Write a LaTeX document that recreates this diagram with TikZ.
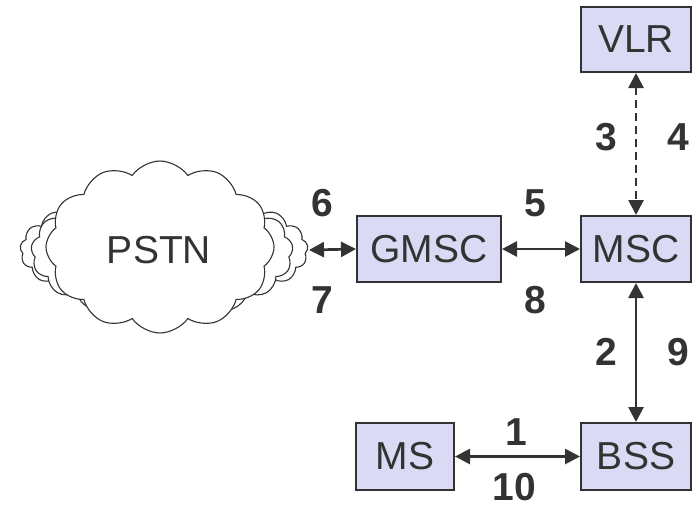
\documentclass[tikz,border=0pt]{standalone}
\usepackage{fontspec}
\setmainfont{Liberation Sans}
\usetikzlibrary{arrows.meta,shapes.symbols}
\definecolor{boxfill}{HTML}{DADAF4}
\definecolor{ink}{HTML}{333333}
\begin{document}
\begin{tikzpicture}[x=1pt,y=-1pt,
  box/.style={draw=ink,line width=2pt,fill=boxfill,inner sep=0pt,font=\fontsize{39}{39}\selectfont,text=ink},
  num/.style={inner sep=0pt,font=\fontsize{39}{39}\selectfont\bfseries,text=ink},
  link/.style={draw=ink,line width=2.7pt,{Triangle[length=15pt,width=15pt]}-{Triangle[length=15pt,width=15pt]}},
  cloudshape/.style={cloud,draw=ink,line width=1.1pt,fill=white,aspect=1.6}]
\useasboundingbox (0,0) rectangle (692,509);
\node[cloudshape,cloud puffs=21,cloud puff arc=120,minimum width=288pt,minimum height=118pt] (back) at (164,250) {};
\node[cloudshape,cloud puffs=17,cloud puff arc=120,minimum width=262pt,minimum height=135pt] (mid) at (162,252) {};
\node[cloudshape,cloud puffs=12,cloud puff arc=110,minimum width=228pt,minimum height=172pt] (pstn) at (160,247) {};
\node[font=\fontsize{39}{39}\selectfont,text=ink] (pstnlabel) at (159,250) {PSTN};
\node[box,minimum width=110pt,minimum height=65pt] (vlr) at (636,39.5) {VLR};
\node[box,minimum width=110pt,minimum height=66pt] (msc) at (636,249) {MSC};
\node[box,minimum width=144pt,minimum height=66pt] (gmsc) at (429,249) {GMSC};
\node[box,minimum width=98pt,minimum height=67pt] (ms) at (405,456.5) {MS};
\node[box,minimum width=110pt,minimum height=67pt] (bss) at (636,456.5) {BSS};
\coordinate (pstnend) at (309,250);
\draw[link] (pstnend) -- (gmsc.west);
\draw[link] (gmsc.east) -- (msc.west);
\draw[link,dash pattern=on 8pt off 5pt] (vlr.south) -- (msc.north);
\draw[link] (msc.south) -- (bss.north);
\draw[link] (ms.east) -- (bss.west);
\node[num] (n6) at (322,203) {6};
\node[num] (n7) at (322,300) {7};
\node[num] (n5) at (535,203) {5};
\node[num] (n8) at (535,300) {8};
\node[num] (n3) at (606,137) {3};
\node[num] (n4) at (678,137) {4};
\node[num] (n2) at (606,352) {2};
\node[num] (n9) at (678,352) {9};
\node[num] (n1) at (516,432) {1};
\node[num] (n10) at (514,487) {10};
\end{tikzpicture}
\end{document}
